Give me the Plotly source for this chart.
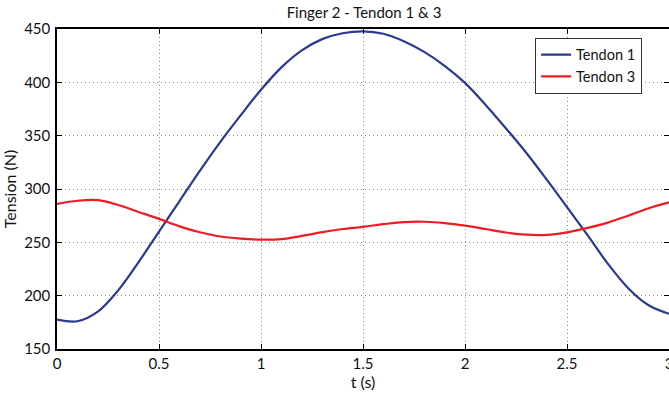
import plotly.graph_objects as go

t = [0.0, 0.1, 0.2, 0.3, 0.4, 0.5, 0.6, 0.7, 0.8, 0.9, 1.0,
     1.1, 1.2, 1.3, 1.4, 1.5, 1.6, 1.7, 1.8, 1.9, 2.0,
     2.1, 2.2, 2.3, 2.4, 2.5, 2.6, 2.7, 2.8, 2.9, 3.0]

tendon1 = [177.5, 176, 185, 205, 231.5, 260, 288.5, 317, 344, 369, 393,
           414, 430, 440.5, 446, 447.8, 445.5, 438.5, 428.5, 415.5, 399.5,
           379, 357, 334, 309, 283, 257, 230, 207, 191, 183]

tendon3 = [286, 289, 289.5, 285, 278.5, 272, 265, 259.5, 255.5, 253.5, 252.5,
           253, 256, 259.5, 262.5, 264.5, 267, 269, 269.3, 268, 265.6,
           262.5, 259.2, 257.2, 257, 259.4, 263.5, 268.5, 275, 282, 287.5]

x_ticks = [0, 0.5, 1, 1.5, 2, 2.5, 3]
x_tick_labels = ["0", "0.5", "1", "1.5", "2", "2.5", "3"]
y_ticks = [150, 200, 250, 300, 350, 400, 450]

FONT = "Lato"

fig = go.Figure()
fig.add_trace(go.Scatter(x=t, y=tendon1, mode="lines", name="Tendon 1",
                         line=dict(color="#2b3990", width=2.2, shape="spline", smoothing=1)))
fig.add_trace(go.Scatter(x=t, y=tendon3, mode="lines", name="Tendon 3",
                         line=dict(color="#ed1c24", width=2.2, shape="spline", smoothing=1)))

axis_common = dict(
    showline=True, linecolor="black", linewidth=1.5, mirror="allticks",
    ticks="inside", ticklen=5, tickcolor="black", tickwidth=1,
    showgrid=True, gridcolor="#8a8a8a", griddash="1px,3px", gridwidth=1,
    zeroline=False, automargin=False, ticklabeloverflow="allow",
    tickfont=dict(family=FONT, size=15, color="#111"),
)

fig.update_layout(
    width=669, height=401,
    margin=dict(l=57, r=0, t=29, b=52),
    paper_bgcolor="white", plot_bgcolor="white",
    font=dict(family=FONT, color="#111"),
    title=dict(text="Finger 2 - Tendon 1 & 3", x=(57 + 671) / 2 / 669, xanchor="center",
               y=1 - 13 / 401, yanchor="middle", font=dict(family=FONT, size=15, color="#111")),
    xaxis=dict(range=[0, 3], tickvals=x_ticks, ticktext=x_tick_labels,
               title=dict(text="t (s)", font=dict(family=FONT, size=16), standoff=4),
               **axis_common),
    yaxis=dict(range=[150, 450], tickvals=y_ticks,
               title=dict(text="Tension (N)", font=dict(family=FONT, size=16), standoff=6),
               ticklabelstandoff=2, **axis_common),
    legend=dict(x=0.956, xanchor="right", y=0.973, yanchor="top",
                bgcolor="white", bordercolor="#333", borderwidth=1,
                font=dict(family=FONT, size=14.5, color="#111")),
    showlegend=True,
)

fig.write_html("out.html", config={"displayModeBar": False},
               post_script="document.body.style.margin='0';document.body.style.overflow='hidden';")
